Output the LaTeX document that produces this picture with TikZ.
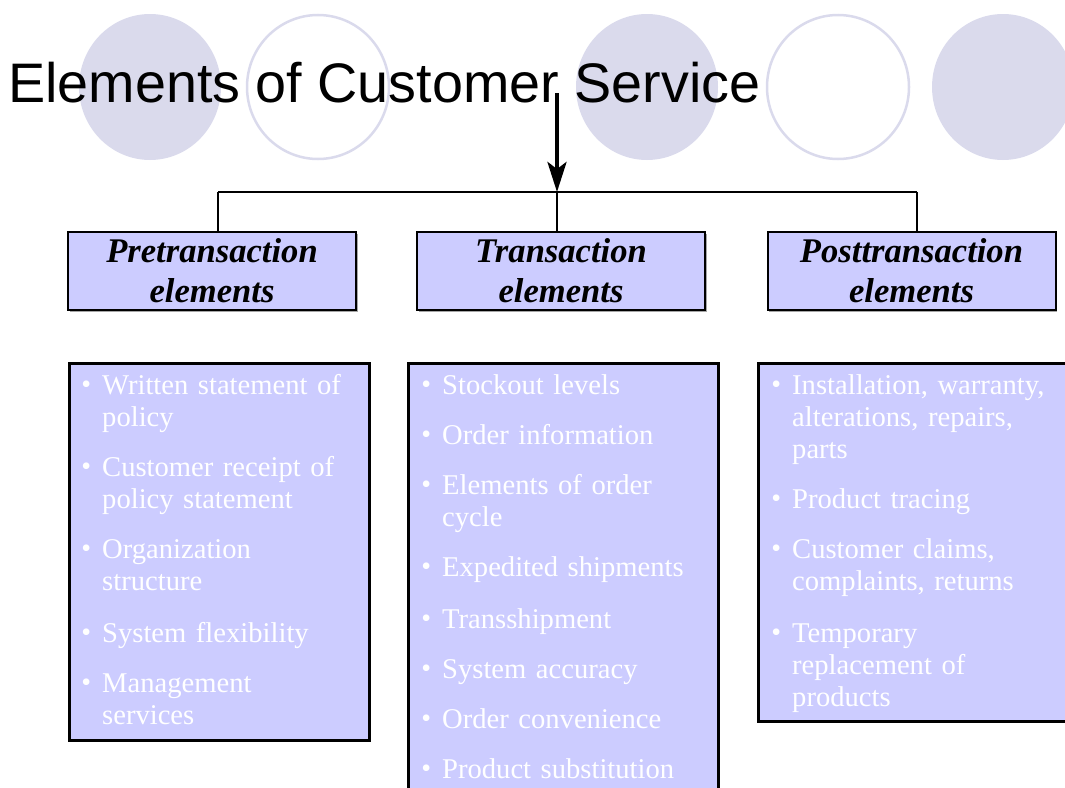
\documentclass[tikz,border=0pt]{standalone}
\usepackage{fontspec}
\setmainfont{Liberation Serif}
\newfontfamily\titlefont{Liberation Sans}
\usetikzlibrary{arrows.meta,shadows}

\definecolor{panel}{RGB}{204,204,255}
\definecolor{deco}{RGB}{218,218,236}

\newcommand{\bul}{\llap{\raisebox{0.5pt}{\fontsize{28}{28}\selectfont\textbullet}\hspace{11pt}}}

\begin{document}
\begin{tikzpicture}[x=1pt,y=-1pt,
  decofill/.style={fill=deco},
  decoring/.style={draw=deco,line width=2.5pt},
  boxshade/.style={drop shadow={shadow xshift=1.5pt,shadow yshift=-1.5pt,fill=black!35,opacity=1}},
  hdrbox/.style={draw=black,line width=2pt,fill=panel,boxshade,minimum width=288pt,
    minimum height=78pt,inner sep=0pt,align=center,
    font=\fontsize{34.6}{40}\selectfont\bfseries\itshape},
  listbox/.style={draw=black,line width=2.5pt,fill=panel,boxshade,anchor=north west,inner sep=0pt},
  itemtext/.style={anchor=base west,inner sep=0pt,text=white,text width=275pt,align=left,
    font=\fontsize{28.6}{32}\selectfont},
  tree/.style={draw=black,line width=2pt}
]
\useasboundingbox (0,0) rectangle (1065,787);
\clip (0,0) rectangle (1065,787);

% decorative circles behind the title
\fill[decofill] (150,87) ellipse (71 and 73);
\draw[decoring] (318,87) ellipse (71 and 72);
\fill[decofill] (647,87) ellipse (71 and 73);
\draw[decoring] (838,87) ellipse (71 and 72);
\fill[decofill] (1003,87) ellipse (71 and 73);

% title
\node[anchor=base west,inner sep=0pt,font=\titlefont\fontsize{55.7}{60}\selectfont]
  (title) at (8,102) {Elements of Customer Service};

% branch points of the tree
\coordinate (src) at (557,93);
\coordinate (j1) at (218,192);
\coordinate (j2) at (557,192);
\coordinate (j3) at (917,192);

% category headers
\node[hdrbox] (h1) at (212,271) {Pretransaction\\elements};
\node[hdrbox] (h2) at (561,271) {Transaction\\elements};
\node[hdrbox] (h3) at (911.5,271) {Posttransaction\\elements};

% connectors
\draw[line width=4pt,-{Stealth[length=30pt,width=19pt,inset=7pt]}] (src) -- (j2);
\draw[tree] (j1) -- (j3);
\draw[tree] (j1) -- (j1 |- h1.north);
\draw[tree] (j2) -- (j2 |- h2.north);
\draw[tree] (j3) -- (j3 |- h3.north);

% lists of elements
\node[listbox,minimum width=300pt,minimum height=377pt] (b1) at (68,362) {};
\node[listbox,minimum width=310pt,minimum height=440pt] (b2) at (407,362) {};
\node[listbox,minimum width=320pt,minimum height=358pt] (b3) at (757,362) {};

\node[itemtext] (p1) at (102,394) {\bul Written statement of\\policy};
\node[itemtext] (p2) at (102,476) {\bul Customer receipt of\\policy statement};
\node[itemtext] (p3) at (102,558) {\bul Organization\\structure};
\node[itemtext] (p4) at (102,642) {\bul System flexibility};
\node[itemtext] (p5) at (102,692) {\bul Management\\services};

\node[itemtext] (t1) at (442,394) {\bul Stockout levels};
\node[itemtext] (t2) at (442,444) {\bul Order information};
\node[itemtext] (t3) at (442,494) {\bul Elements of order\\cycle};
\node[itemtext] (t4) at (442,576) {\bul Expedited shipments};
\node[itemtext] (t5) at (442,628) {\bul Transshipment};
\node[itemtext] (t6) at (442,678) {\bul System accuracy};
\node[itemtext] (t7) at (442,728) {\bul Order convenience};
\node[itemtext] (t8) at (442,778) {\bul Product substitution};

\node[itemtext] (q1) at (792,394) {\bul Installation, warranty,\\alterations, repairs,\\parts};
\node[itemtext] (q2) at (792,508) {\bul Product tracing};
\node[itemtext] (q3) at (792,558) {\bul Customer claims,\\complaints, returns};
\node[itemtext] (q4) at (792,642) {\bul Temporary\\replacement of\\products};
\end{tikzpicture}
\end{document}
